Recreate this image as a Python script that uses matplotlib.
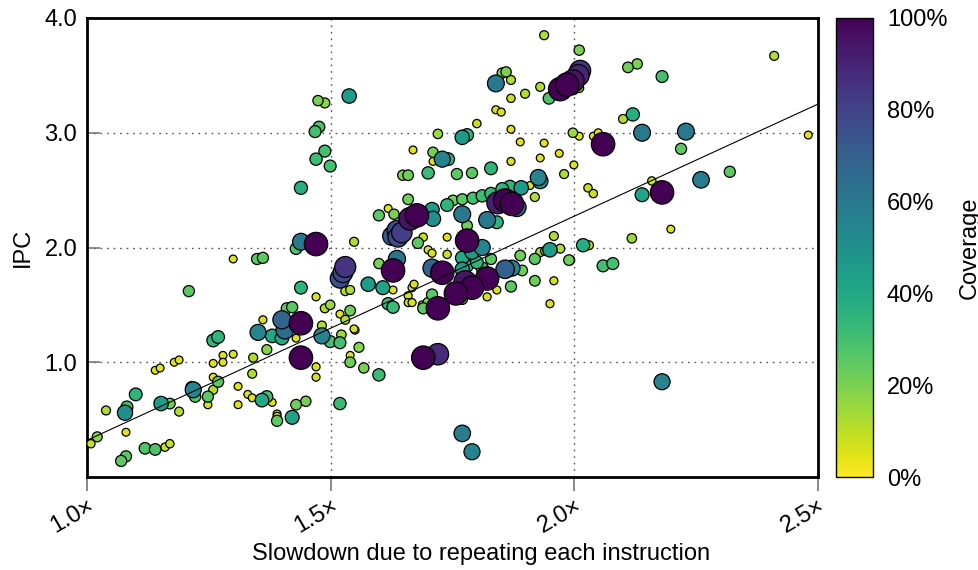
import numpy as np
import matplotlib
matplotlib.use("Agg")
import matplotlib.pyplot as plt
from matplotlib.ticker import FixedLocator, FuncFormatter

plt.rcParams["font.family"] = ["Liberation Sans", "DejaVu Sans"]

# slowdown (x), IPC (y) and coverage (%) per benchmark
slowdown = [
    1.474, 1.488, 1.476, 1.468, 1.488, 1.470, 1.499, 1.538, 1.938, 1.839,
    1.852, 1.860, 1.870, 1.899, 1.930, 1.948, 1.870, 1.839, 1.850, 1.800,
    1.870, 1.720, 1.780, 1.770, 1.997, 1.889, 1.938, 1.969, 1.930, 1.870,
    1.669, 1.710, 1.710, 1.741, 1.729, 1.829, 1.979, 1.648, 1.659, 1.700,
    1.759, 1.790, 1.971, 1.985, 1.997, 2.008, 2.012, 1.999, 2.010, 2.010,
    2.110, 2.129, 2.180, 2.410, 2.120, 2.100, 2.010, 2.039, 2.049, 2.059,
    2.139, 2.229, 2.219, 2.480, 1.999, 2.319, 2.260, 2.159, 2.180, 2.139,
    2.028, 2.039, 2.198, 2.118, 2.018, 2.030, 1.991, 2.059, 2.079, 2.180,
    1.439, 1.439, 1.470, 1.429, 1.300, 1.349, 1.361, 1.209, 1.439, 1.470,
    1.488, 1.410, 1.421, 1.361, 1.400, 1.439, 1.482, 1.351, 1.406, 1.380,
    1.400, 1.482, 1.499, 1.259, 1.269, 1.429, 1.369, 1.300, 1.279, 1.279,
    1.341, 1.259, 1.179, 1.189, 1.140, 1.150, 1.439, 1.470, 1.470, 1.259,
    1.269, 1.259, 1.248, 1.218, 1.222, 1.215, 1.248, 1.310, 1.339, 1.330,
    1.339, 1.310, 1.359, 1.369, 1.380, 1.189, 1.170, 1.152, 1.100, 1.078,
    1.082, 1.039, 1.080, 1.021, 1.008, 1.119, 1.140, 1.160, 1.170, 1.080,
    1.070, 1.390, 1.390, 1.390, 1.421, 1.429, 1.449, 1.550, 1.519, 1.522,
    1.558, 1.540, 1.540, 1.568, 1.599, 1.519, 1.690, 1.720, 1.770, 1.790,
    1.930, 1.926, 1.909, 1.919, 1.891, 1.868, 1.852, 1.829, 1.811, 1.792,
    1.770, 1.751, 1.739, 1.858, 1.843, 1.872, 1.882, 1.770, 1.821, 1.841,
    1.780, 1.659, 1.708, 1.710, 1.677, 1.663, 1.618, 1.630, 1.599, 1.636,
    1.646, 1.626, 1.638, 1.679, 1.690, 1.548, 1.739, 1.780, 1.811, 1.790,
    1.770, 1.829, 1.700, 1.708, 1.739, 1.636, 1.628, 1.599, 1.530, 1.525,
    1.519, 1.708, 1.729, 1.770, 1.811, 1.858, 1.872, 1.893, 1.889, 1.919,
    1.930, 1.940, 1.950, 1.958, 1.971, 1.989, 1.958, 1.919, 1.870, 1.950,
    1.821, 1.790, 1.776, 1.757, 1.770, 1.841, 1.821, 1.720, 1.708, 1.700,
    1.688, 1.667, 1.671, 1.659, 1.659, 1.667, 1.690, 1.577, 1.607, 1.628,
    1.530, 1.540, 1.618, 1.628, 1.519, 1.530, 1.540, 1.499, 1.548, 1.800,
    1.780,
]
ipc = [
    3.28, 3.26, 3.05, 3.01, 2.84, 2.77, 2.71, 3.32, 3.85, 3.43,
    3.52, 3.53, 3.46, 3.34, 3.40, 3.30, 3.30, 3.20, 3.18, 3.08,
    3.03, 2.99, 2.98, 2.96, 3.00, 2.92, 2.91, 2.82, 2.78, 2.75,
    2.85, 2.83, 2.75, 2.77, 2.77, 2.69, 2.64, 2.63, 2.63, 2.65,
    2.64, 2.65, 3.38, 3.42, 3.45, 3.50, 3.54, 3.37, 3.39, 3.72,
    3.57, 3.60, 3.49, 3.67, 3.16, 3.12, 2.97, 2.97, 3.00, 2.90,
    3.00, 3.01, 2.86, 2.98, 2.72, 2.66, 2.59, 2.58, 2.48, 2.46,
    2.52, 2.47, 2.16, 2.08, 2.02, 2.02, 1.89, 1.84, 1.86, 0.83,
    2.52, 2.05, 2.03, 1.99, 1.90, 1.90, 1.91, 1.62, 1.65, 1.57,
    1.47, 1.47, 1.48, 1.37, 1.37, 1.34, 1.32, 1.26, 1.28, 1.23,
    1.21, 1.23, 1.18, 1.19, 1.22, 1.21, 1.11, 1.07, 1.06, 1.00,
    1.04, 0.99, 1.00, 1.02, 0.93, 0.95, 1.04, 0.96, 0.87, 0.87,
    0.83, 0.76, 0.70, 0.76, 0.70, 0.78, 0.63, 0.79, 0.90, 0.72,
    0.69, 0.63, 0.67, 0.70, 0.65, 0.57, 0.64, 0.64, 0.72, 0.56,
    0.61, 0.58, 0.39, 0.35, 0.29, 0.25, 0.24, 0.26, 0.29, 0.18,
    0.14, 0.55, 0.53, 0.49, 0.52, 0.63, 0.66, 1.28, 1.17, 1.24,
    1.13, 1.06, 1.00, 0.95, 0.89, 0.64, 1.04, 1.07, 0.38, 0.22,
    2.58, 2.61, 2.54, 2.44, 2.52, 2.53, 2.51, 2.47, 2.45, 2.43,
    2.42, 2.41, 2.37, 2.41, 2.39, 2.38, 2.35, 2.29, 2.24, 2.22,
    2.19, 2.42, 2.33, 2.25, 2.28, 2.25, 2.34, 2.29, 2.28, 2.15,
    2.13, 2.10, 2.09, 2.04, 2.09, 2.05, 2.09, 2.06, 2.00, 1.96,
    1.91, 1.90, 1.98, 1.95, 1.94, 1.90, 1.80, 1.86, 1.83, 1.78,
    1.73, 1.82, 1.78, 1.81, 1.82, 1.81, 1.82, 1.80, 1.93, 1.90,
    1.96, 1.97, 1.98, 2.10, 1.99, 1.89, 1.71, 1.71, 1.66, 1.51,
    1.73, 1.65, 1.70, 1.60, 1.55, 1.63, 1.57, 1.47, 1.59, 1.52,
    1.50, 1.65, 1.68, 1.58, 1.52, 1.52, 1.47, 1.68, 1.65, 1.63,
    1.62, 1.63, 1.51, 1.48, 1.42, 1.37, 1.45, 1.50, 1.29, 1.87,
    1.84,
]
coverage = [
    20, 18, 28, 30, 30, 32, 30, 45, 12, 60,
    20, 20, 12, 12, 12, 28, 8, 6, 6, 8,
    5, 15, 35, 45, 15, 5, 5, 5, 5, 6,
    5, 20, 5, 35, 55, 35, 12, 20, 22, 32,
    25, 25, 100, 100, 95, 90, 85, 10, 12, 20,
    22, 20, 30, 12, 38, 12, 5, 5, 5, 100,
    60, 60, 25, 5, 5, 25, 58, 8, 100, 42,
    8, 8, 5, 15, 38, 12, 15, 30, 30, 55,
    37, 60, 100, 28, 5, 25, 25, 25, 35, 6,
    12, 25, 25, 6, 68, 100, 12, 55, 65, 40,
    40, 55, 30, 35, 35, 5, 18, 5, 5, 5,
    12, 5, 5, 5, 5, 5, 100, 6, 6, 5,
    25, 12, 25, 55, 25, 30, 6, 5, 12, 5,
    5, 5, 40, 30, 5, 12, 22, 45, 35, 50,
    30, 12, 5, 18, 8, 28, 28, 8, 8, 25,
    25, 5, 5, 25, 42, 22, 20, 6, 30, 15,
    18, 5, 22, 20, 32, 32, 100, 88, 58, 55,
    52, 55, 5, 12, 45, 35, 35, 33, 32, 30,
    25, 22, 35, 100, 92, 100, 70, 60, 60, 35,
    22, 22, 45, 50, 100, 95, 5, 20, 25, 78,
    82, 72, 78, 25, 8, 12, 5, 100, 55, 45,
    40, 25, 6, 6, 8, 62, 100, 20, 85, 78,
    75, 68, 100, 45, 32, 70, 55, 22, 22, 25,
    12, 12, 45, 12, 12, 22, 6, 22, 25, 6,
    100, 100, 95, 100, 22, 6, 6, 100, 25, 20,
    6, 6, 6, 6, 6, 6, 25, 45, 42, 5,
    12, 12, 32, 32, 5, 12, 22, 15, 6, 35,
    32,
]

# least-squares trend line, evaluated at the axis ends
fit_x = [1.0, 2.5]
fit_y = [0.32, 3.25]

x_ticks = [1.0, 1.5, 2.0, 2.5]
y_ticks = [1.0, 2.0, 3.0, 4.0]
cbar_ticks = [0, 20, 40, 60, 80, 100]

x = np.asarray(slowdown)
y = np.asarray(ipc)
c = np.asarray(coverage, dtype=float)

# low coverage first so the big dots sit on top
order = np.argsort(c, kind="stable")
x, y, c = x[order], y[order], c[order]

# marker radius grows linearly with coverage (3.5 px .. 11.7 px)
radius_px = 3.5 + 8.2 * c / 100.0
sizes = (2 * radius_px * 0.72) ** 2

FS = 17

fig = plt.figure(figsize=(9.79, 5.70), dpi=100)
ax = fig.add_axes([87 / 979, 1 - 477 / 570, (818 - 87) / 979, (477 - 18) / 570])
cax = fig.add_axes([836 / 979, 1 - 477 / 570, 37 / 979, (477 - 18) / 570])

sc = ax.scatter(
    x, y, s=sizes, c=c, cmap="viridis_r", vmin=0, vmax=100,
    edgecolors="black", linewidths=0.9, zorder=3,
)
ax.plot(fit_x, fit_y, color="black", linewidth=0.8, zorder=4)

ax.set_xlim(1.0, 2.5)
ax.set_ylim(0, 4.0)
ax.xaxis.set_major_locator(FixedLocator(x_ticks))
ax.yaxis.set_major_locator(FixedLocator(y_ticks))
ax.xaxis.set_major_formatter(FuncFormatter(lambda v, _: f"{v:.1f}×"))
ax.yaxis.set_major_formatter(FuncFormatter(lambda v, _: f"{v:.1f}"))

ax.grid(True, linestyle=(0, (1.2, 3.5)), color="#555555", linewidth=1.0, zorder=0)
for sp in ax.spines.values():
    sp.set_linewidth(2.0)

ax.tick_params(axis="y", direction="in", length=9, width=1.2, color="#777777",
               labelsize=FS, pad=7)
ax.tick_params(axis="x", direction="out", length=10, width=1.2, color="#777777",
               labelsize=FS, pad=3)
for lbl in ax.get_xticklabels():
    lbl.set_rotation(30)
    lbl.set_ha("right")
    lbl.set_rotation_mode("anchor")

# label sits a little right of the axes centre
ax.set_xlabel("Slowdown due to repeating each instruction", fontsize=FS,
              labelpad=4, x=0.539)
ax.set_ylabel("IPC", fontsize=FS, labelpad=8)

cb = fig.colorbar(sc, cax=cax, ticks=cbar_ticks)
cb.ax.set_yticklabels([f"{t}%" for t in cbar_ticks])
cb.ax.tick_params(length=0, labelsize=FS, pad=10)
cb.outline.set_linewidth(1.0)
cb.set_label("Coverage", fontsize=FS, labelpad=8)

fig.savefig("out.png", dpi=100)
